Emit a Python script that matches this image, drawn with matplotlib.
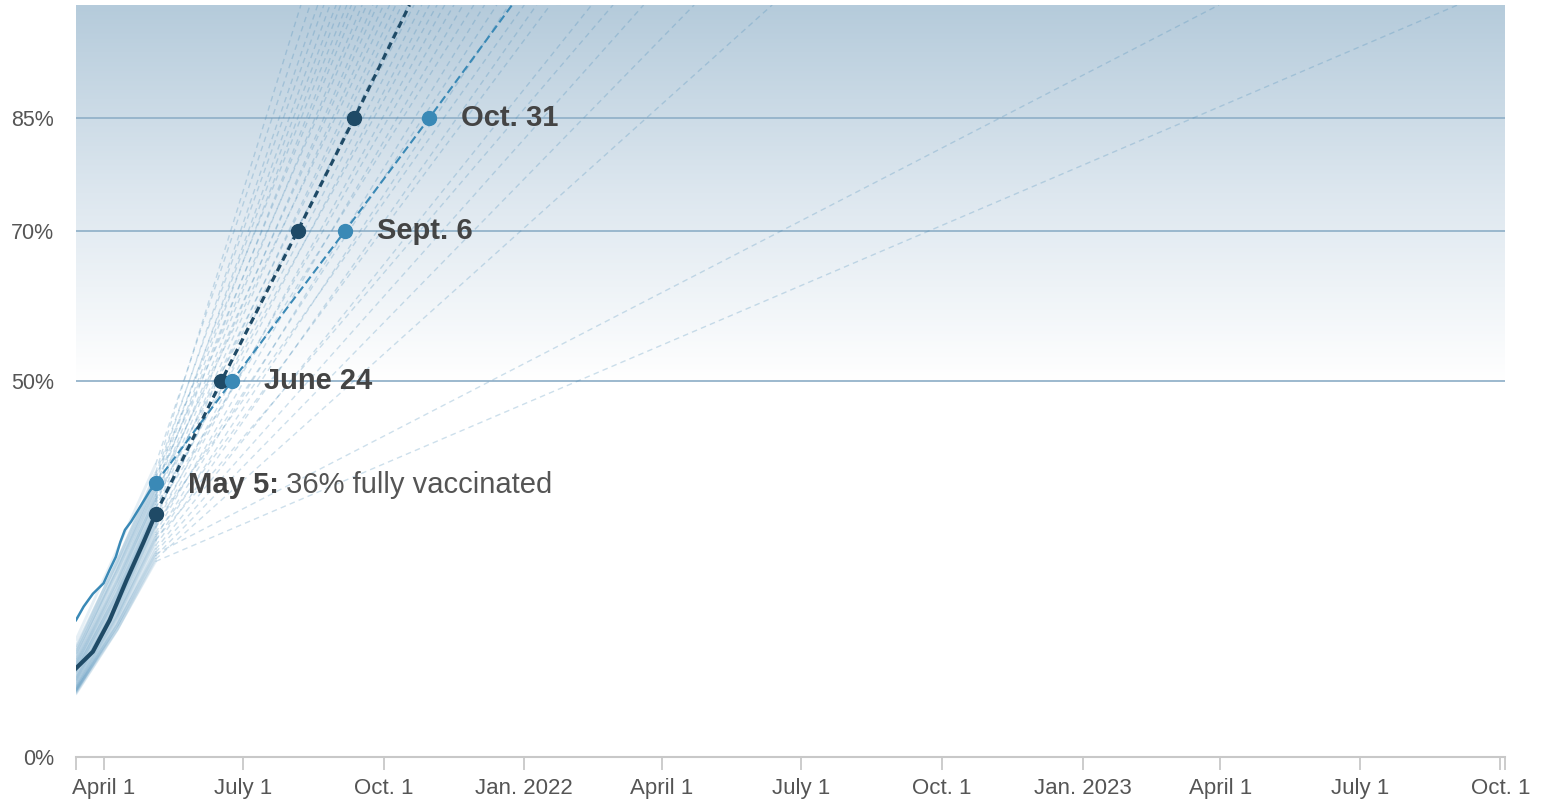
import matplotlib.pyplot as plt
import matplotlib.dates as mdates
import numpy as np
import pandas as pd
from matplotlib.colors import LinearSegmentedColormap

# highlighted state (light blue) - history and projection
blue_hist_dates = ['2021-03-14', '2021-03-19', '2021-03-25', '2021-04-01', '2021-04-05', '2021-04-09',
                   '2021-04-12', '2021-04-15', '2021-04-19', '2021-04-25', '2021-05-01', '2021-05-05']
blue_hist_vals = [18.2, 20.0, 21.7, 23.1, 24.9, 26.6, 28.6, 30.2, 31.3, 33.3, 35.3, 36.4]
blue_proj_dates = ['2021-05-05', '2021-06-24', '2021-09-06', '2021-10-31', '2021-12-24']
blue_proj_vals = [36.4, 50, 70, 85, 100]

# national line (dark)
dark_hist_dates = ['2021-03-14', '2021-03-25', '2021-04-05', '2021-04-16', '2021-04-27', '2021-05-05']
dark_hist_vals = [11.8, 14.0, 18.2, 23.5, 28.5, 32.3]
dark_proj_dates = ['2021-05-05', '2021-06-17', '2021-08-06', '2021-09-12', '2021-10-18']
dark_proj_vals = [32.3, 50, 70, 85, 100]

# other states: value on Mar 14, Apr 10, May 5 and projected date of 100%
hist_start = [14.8, 15.6, 13.9, 14.2, 12.8, 13.5, 12.6, 14.5, 12.1, 13.2,
              11.9, 13.8, 11.4, 12.4, 11.0, 13.0, 10.8, 11.7, 10.2, 12.2,
              10.6, 9.8, 11.3, 9.5, 10.4, 9.2, 11.5, 9.0, 10.0, 8.9,
              10.3, 8.7, 9.6, 8.6, 9.3, 8.8, 8.5, 8.4, 9.1, 8.9]
hist_mid = [26.0, 27.6, 24.8, 26.2, 23.9, 25.4, 23.5, 26.1, 22.9, 24.8,
            22.5, 25.3, 21.9, 23.1, 21.4, 24.5, 21.1, 22.3, 20.4, 23.6,
            20.9, 19.8, 21.8, 19.5, 20.5, 19.0, 21.6, 18.6, 19.9, 18.3,
            20.2, 17.9, 19.1, 17.6, 18.7, 17.5, 17.0, 16.9, 17.6, 17.0]
fan_may5 = [37.8, 38.9, 36.9, 37.5, 35.8, 36.6, 35.2, 37.1, 34.6, 35.9,
            34.1, 36.2, 33.5, 34.8, 33.0, 35.4, 32.6, 33.9, 31.8, 34.3,
            32.2, 30.9, 33.1, 30.4, 31.5, 29.8, 32.7, 29.2, 30.6, 28.7,
            31.1, 28.1, 29.5, 27.6, 28.9, 27.2, 26.7, 26.3, 27.0, 26.0]
fan_full = ['2021-08-08', '2021-08-14', '2021-08-19', '2021-08-23', '2021-08-27',
            '2021-08-31', '2021-09-03', '2021-09-07', '2021-09-10', '2021-09-13',
            '2021-09-17', '2021-09-20', '2021-09-24', '2021-09-27', '2021-10-01',
            '2021-10-05', '2021-10-09', '2021-10-13', '2021-10-17', '2021-10-21',
            '2021-10-26', '2021-10-31', '2021-11-05', '2021-11-10', '2021-11-16',
            '2021-11-22', '2021-11-29', '2021-12-06', '2021-12-14', '2021-12-22',
            '2022-01-01', '2022-01-09', '2022-01-18', '2022-02-14', '2022-02-28',
            '2022-03-20', '2022-04-22', '2022-06-12', '2023-03-31', '2023-09-03']

milestones = [50, 70, 85]
tick_dates = ['2021-04-01', '2021-07-01', '2021-10-01', '2022-01-01', '2022-04-01', '2022-07-01',
              '2022-10-01', '2023-01-01', '2023-04-01', '2023-07-01', '2023-10-01']
tick_labels = ['April 1', 'July 1', 'Oct. 1', 'Jan. 2022', 'April 1', 'July 1',
               'Oct. 1', 'Jan. 2023', 'April 1', 'July 1', 'Oct. 1']

x_start, x_end = pd.Timestamp('2021-03-14'), pd.Timestamp('2023-10-04')
hist_dates = pd.to_datetime(['2021-03-14', '2021-04-10', '2021-05-05'])
may5 = pd.Timestamp('2021-05-05')

DARK = '#1f4a66'
BLUE = '#3a89b6'
FAINT = '#3f86b5'

plt.rcParams['font.family'] = ['Liberation Sans', 'DejaVu Sans']

fig = plt.figure(figsize=(15.41, 8.02), dpi=100)
ax = fig.add_axes([76 / 1541, 45 / 802, (1505 - 76) / 1541, 752 / 802])

# gradient above 50%
cmap = LinearSegmentedColormap.from_list('bg', ['#ffffff', '#dde7ef', '#b5cbdb'])
grad = np.linspace(0, 1, 256).reshape(-1, 1)
ax.imshow(grad, extent=[mdates.date2num(x_start), mdates.date2num(x_end), 50, 100],
          origin='lower', aspect='auto', cmap=cmap, zorder=0)

for m in milestones:
    ax.axhline(m, color='#94b3ca', lw=1.3, zorder=1)

# faint state lines
for s, m, e, full in zip(hist_start, hist_mid, fan_may5, fan_full):
    ax.plot(hist_dates, [s, m, e], color=FAINT, lw=2, alpha=0.13, solid_capstyle='round', zorder=2)
    ax.plot([may5, pd.Timestamp(full)], [e, 100], color=FAINT, lw=1.0, alpha=0.26,
            ls=(0, (4, 3)), zorder=2)

# highlighted lines
ax.plot(pd.to_datetime(blue_hist_dates), blue_hist_vals, color=BLUE, lw=1.8, zorder=3)
ax.plot(pd.to_datetime(blue_proj_dates), blue_proj_vals, color=BLUE, lw=1.5, ls=(0, (4, 2)), zorder=3)
ax.plot(pd.to_datetime(dark_hist_dates), dark_hist_vals, color=DARK, lw=3, zorder=4)
ax.plot(pd.to_datetime(dark_proj_dates), dark_proj_vals, color=DARK, lw=2.3, ls=(0, (2.2, 1.5)), zorder=4)

ax.plot(pd.to_datetime(dark_proj_dates[:4]), dark_proj_vals[:4], 'o', color=DARK, ms=10, zorder=5)
ax.plot(pd.to_datetime(blue_proj_dates[:4]), blue_proj_vals[:4], 'o', color=BLUE, ms=10, zorder=6)

# labels
lab_kw = dict(textcoords='offset points', va='center', ha='left', fontsize=21, zorder=7)
for d, v, txt in zip(blue_proj_dates[1:4], blue_proj_vals[1:4], ['June 24', 'Sept. 6', 'Oct. 31']):
    ax.annotate(txt, xy=(pd.Timestamp(d), v), xytext=(23, 0), color='#444444',
                fontweight='bold', **lab_kw)
t0 = ax.annotate('May 5:', xy=(may5, blue_proj_vals[0]), xytext=(23, -1), color='#444444',
                 fontweight='bold', **lab_kw)
ax.annotate(' 36% fully vaccinated', xy=(1, 0.5), xycoords=t0, va='center', ha='left',
            fontsize=21, color='#555555', zorder=7)

ax.set_xlim(x_start, x_end)
ax.set_ylim(0, 100)

ticks = [x_start] + list(pd.to_datetime(tick_dates)) + [x_end]
ax.set_xticks(ticks)
ax.set_xticklabels([''] + tick_labels + [''])
ax.tick_params(axis='x', length=9, width=1.2, color='#c4c4c4', pad=6, labelsize=16, labelcolor='#555555')
ax.set_yticks([0] + milestones)
ax.set_yticklabels(['0%', '50%', '70%', '85%'])
ax.tick_params(axis='y', length=0, pad=16, labelsize=15.5, labelcolor='#555555')

for side in ['top', 'right', 'left']:
    ax.spines[side].set_visible(False)
ax.spines['bottom'].set_color('#c8c8c8')
ax.spines['bottom'].set_linewidth(1.5)

fig.savefig('out.png', dpi=100)
